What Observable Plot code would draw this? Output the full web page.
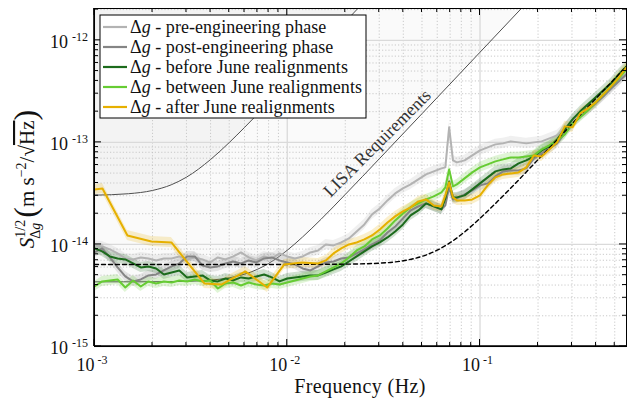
<!DOCTYPE html>
<html><head><meta charset="utf-8">
<script src="https://cdn.jsdelivr.net/npm/d3@7"></script>
<script src="https://cdn.jsdelivr.net/npm/@observablehq/plot@0.6"></script>
<style>body{margin:0;background:#fff} svg{display:block} svg text, svg tspan{font-family:"Liberation Serif",serif !important}</style>
</head><body><div id="chart"></div>
<script>
// ---- data (values in units of 1e-15 m s^-2 / sqrt(Hz)) ----
const freq = [0.001, 0.001096, 0.001202, 0.001318, 0.001445, 0.001585, 0.001738, 0.001905, 0.002089, 0.002291,
 0.002512, 0.002754, 0.003020, 0.003311, 0.003631, 0.003981, 0.004365, 0.004786, 0.005248, 0.005754,
 0.006310, 0.006918, 0.007586, 0.008318, 0.009120, 0.01000, 0.01096, 0.01202, 0.01318, 0.01445,
 0.01585, 0.01738, 0.01905, 0.02089, 0.02291, 0.02512, 0.02754, 0.03020, 0.03311, 0.03631,
 0.03981, 0.04365, 0.04786, 0.05248, 0.05754, 0.06310, 0.06610, 0.06918, 0.07240, 0.07586,
 0.08318, 0.09120, 0.1000, 0.1096, 0.1202, 0.1318, 0.1445, 0.1585, 0.1738, 0.1905,
 0.2089, 0.2291, 0.2512, 0.2754, 0.3020, 0.3311, 0.3631, 0.3981, 0.4365, 0.4786,
 0.5248, 0.5754];
const preEngineering = [9.78, 9.56, 8.93, 8.16, 7.29, 7.13, 7.46, 7.29, 6.97, 7.29,
 7.29, 7.63, 7.13, 7.46, 7.13, 6.66, 7.46, 7.13, 7.63, 8.35,
 7.46, 6.97, 7.63, 7.29, 8.16, 7.63, 7.29, 7.63, 8.35, 8.73,
 10.0, 9.78, 10.46, 11.45, 13.41, 15.71, 19.69, 22.54, 27.01, 31.62,
 35.40, 38.75, 43.38, 48.56, 51.96, 55.60, 56.87, 140.3, 66.61,
 63.67, 66.61, 74.57, 83.48, 89.33, 95.59, 97.77, 102.3, 100, 97.77,
 100, 102.3, 109.5, 117.1, 137.2, 164.3, 188.2, 210.7, 241.2, 282.5,
 331.0, 396.3, 474.8];
const postEngineering = [8.35, 9.14, 7.46, 5.95, 4.86, 4.34, 4.54, 4.97, 5.08, 5.56,
 6.09, 6.51, 7.63, 7.63, 6.22, 5.95, 6.09, 6.51, 6.81, 6.51,
 6.97, 6.66, 7.29, 7.46, 6.97, 6.66, 6.37, 5.82, 5.56, 6.09,
 6.66, 6.81, 7.29, 7.46, 8.16, 8.93, 10.0, 10.95, 13.11, 15.01,
 17.99, 21.55, 23.58, 25.24, 23.58, 22.04, 24.12, 36.21, 27.62,
 28.25, 30.92, 33.84, 37.88, 39.63, 46.42, 51.96, 53.15, 53.15, 55.60,
 69.69, 78.01, 87.34, 97.77, 122.5, 150.1, 179.9, 206.0, 241.2, 282.5,
 338.4, 396.3, 464.3];
const beforeJune = [9.14, 8.54, 7.63, 7.29, 7.13, 6.51, 5.95, 6.09, 5.82, 5.08,
 5.31, 5.56, 4.75, 4.86, 4.97, 4.44, 4.34, 4.64, 4.44, 4.75,
 4.64, 4.86, 5.08, 4.75, 4.34, 4.64, 4.75, 4.86, 4.97, 4.97,
 5.31, 5.69, 6.09, 6.81, 7.63, 8.54, 9.56, 10.46, 11.71, 13.41,
 15.71, 19.25, 21.55, 25.24, 23.58, 22.04, 28.25, 41.46, 28.90,
 28.90, 30.23, 34.61, 39.63, 45.38, 51.96, 54.36, 55.60, 62.25, 66.61,
 72.90, 83.48, 91.37, 107.0, 134.1, 168.1, 201.4, 235.8, 276.2, 323.6,
 378.8, 464.3, 556.0];
const betweenJune = [3.87, 4.34, 4.44, 4.54, 3.79, 4.44, 3.87, 4.34, 4.15, 4.34,
 4.24, 4.44, 4.34, 4.54, 4.34, 4.44, 3.70, 4.15, 4.24, 3.96,
 4.24, 4.05, 3.96, 4.15, 4.05, 4.24, 4.44, 4.64, 4.86, 4.97,
 5.44, 5.95, 6.51, 7.46, 8.73, 9.56, 11.20, 12.25, 14.35, 17.19,
 20.14, 23.06, 25.24, 27.62, 29.56, 32.35, 36.21, 54.36, 37.04,
 38.75, 44.37, 50.80, 56.87, 60.86, 65.12, 68.13, 71.28, 71.28, 72.90,
 74.57, 85.39, 93.45, 104.6, 119.8, 153.6, 175.9, 206.0, 246.7, 295.6,
 354.1, 424.2, 519.6];
const afterFreq = [0.001, 0.0011, 0.001482, 0.001974, 0.002506, 0.003715, 0.00455, 0.006059, 0.007877, 0.009649, 0.01196,
 0.01445, 0.01585, 0.01738, 0.01905, 0.02089, 0.02291, 0.02512, 0.02754, 0.03020, 0.03311, 0.03631,
 0.03981, 0.04365, 0.04786, 0.05248, 0.05754, 0.06310, 0.06610, 0.06918, 0.07240,
 0.07586, 0.08318, 0.09120, 0.1000, 0.1096, 0.1202, 0.1318, 0.1445, 0.1585, 0.1738,
 0.1905, 0.2089, 0.2291, 0.2512, 0.2754, 0.3020, 0.3311, 0.3631, 0.3981, 0.4365,
 0.4786, 0.5248, 0.5754];
const afterJune = [34.61, 35.40, 12.25, 10.70, 10.46, 4.15, 4.05, 5.44, 3.79, 6.37, 6.66,
 6.51, 6.97, 8.16, 9.14, 10.0, 10.46, 11.20, 12.25, 14.03, 16.43, 18.82,
 21.07, 23.06, 26.40, 27.62, 24.12, 23.58, 30.23, 40.54, 28.90,
 27.01, 27.01, 27.62, 30.23, 37.88, 45.38, 48.56, 49.67, 50.80, 56.87,
 74.57, 72.90, 85.39, 100, 143.5, 140.3, 192.5, 215.5, 246.7, 295.6,
 354.1, 433.8, 543.6];
const noiseFreq = [0.001, 0.01, 0.02, 0.03, 0.04, 0.05, 0.06, 0.07, 0.08, 0.1, 0.12, 0.15, 0.2, 0.25, 0.3, 0.4, 0.5, 0.6];
const noiseModel = [6.37, 6.37, 6.41, 6.55, 6.92, 7.64, 8.79, 10.4, 12.5, 18.0, 25.1, 38.4, 67.7, 105, 152, 270, 421, 606];
const lisaFreq = [0.001, 0.002, 0.003, 0.004, 0.005, 0.006, 0.007, 0.008, 0.01, 0.012, 0.015, 0.02, 0.03, 0.05, 0.1, 0.2, 0.3];
const lisaReq = [4.30, 4.31, 4.35, 4.47, 4.71, 5.11, 5.70, 6.51, 8.77, 11.82, 17.7, 30.9, 68.9, 191, 764, 3058, 6880];
const upperFreq = [0.001, 0.0015, 0.002, 0.0025, 0.003, 0.004, 0.005, 0.006, 0.008, 0.01, 0.015, 0.02, 0.025, 0.03];
const upperReq = [30.4, 31.4, 33.8, 38.4, 45.6, 67.9, 99.6, 140, 245, 381, 855, 1519, 2373, 3418];

const xMajor = [1e-3, 1e-2, 1e-1];
const xMinor = [2e-3,3e-3,4e-3,5e-3,6e-3,7e-3,8e-3,9e-3, 2e-2,3e-2,4e-2,5e-2,6e-2,7e-2,8e-2,9e-2, 0.2,0.3,0.4,0.5];
const xTickExp = ["-3", "-2", "-1"];
const yMajor = [1e-15, 1e-14, 1e-13, 1e-12];
const yMinor = [2e-15,3e-15,4e-15,5e-15,6e-15,7e-15,8e-15,9e-15, 2e-14,3e-14,4e-14,5e-14,6e-14,7e-14,8e-14,9e-14,
  2e-13,3e-13,4e-13,5e-13,6e-13,7e-13,8e-13,9e-13, 2e-12];
const yTickExp = ["-15", "-14", "-13", "-12"];

const seriesNames = ["pre-engineering phase", "post-engineering phase", "before June realignments", "between June realignments", "after June realignments"];
const seriesColors = ["#b3b3b3", "#858585", "#1c6b1c", "#66cc33", "#e6b000"];
const annotations = [{f: 0.0293, s: 9.8e-14, text: "LISA Requirements"}];

// ---- build tables ----
const U = 1e-15;
const rows = (fs, vs) => fs.map((f, i) => ({f, s: vs[i] * U}));
const series = [
  rows(freq, preEngineering),
  rows(freq, postEngineering),
  rows(freq, beforeJune),
  rows(freq, betweenJune),
  rows(afterFreq, afterJune)
];
const yTop = 2.05e-12;
const FONT = "Liberation Serif";
const BAND = 1.12;

function txt(parent) {
  return parent.append("text").attr("font-family", FONT).attr("fill", "#111");
}

function decorations(index, scales, values, dims) {
  const {x, y} = scales;
  const L = dims.marginLeft, R = dims.width - dims.marginRight, T = dims.marginTop, B = dims.height - dims.marginBottom;
  const g = d3.create("svg:g");
  const tk = g.append("g").attr("stroke", "#000").attr("stroke-width", 1).attr("fill", "none");
  const line = (x1, y1, x2, y2) => tk.append("line").attr("x1", x1).attr("y1", y1).attr("x2", x2).attr("y2", y2);
  for (const v of xMajor) { const p = x(v); line(p, B, p, B - 7); line(p, T, p, T + 7); }
  for (const v of xMinor) { const p = x(v); line(p, B, p, B - 4); line(p, T, p, T + 4); }
  for (const v of yMajor) { const p = y(v); line(L, p, L + 7, p); line(R, p, R - 7, p); }
  for (const v of yMinor) { const p = y(v); line(L, p, L + 4, p); line(R, p, R - 4, p); }
  line(L, T, L, B).attr("stroke-width", 1.6);
  line(L, B, R, B).attr("stroke-width", 1.6);
  xMajor.forEach((v, i) => {
    const t = txt(g).attr("x", x(v) - 2).attr("y", B + 25).attr("text-anchor", "middle").attr("font-size", 18);
    t.append("tspan").text("10");
    t.append("tspan").attr("font-size", 12).attr("dx", 3).attr("dy", -7).text(xTickExp[i]);
  });
  yMajor.forEach((v, i) => {
    const t = txt(g).attr("x", L - 6).attr("y", y(v) + 8).attr("text-anchor", "end").attr("font-size", 18);
    t.append("tspan").text("10");
    t.append("tspan").attr("font-size", 12).attr("dx", 4).attr("dy", -7).text(yTickExp[i]);
  });
  // x label
  txt(g).attr("x", (L + R) / 2).attr("y", B + 47).attr("text-anchor", "middle").attr("font-size", 20)
    .attr("letter-spacing", 0.4).text("Frequency (Hz)");
  // y label
  const yl = txt(g).attr("transform", `translate(34,${(T + B) / 2 + 2}) rotate(-90)`).attr("text-anchor", "middle").attr("font-size", 21);
  yl.append("tspan").attr("font-style", "italic").text("S");
  yl.append("tspan").attr("font-size", 14).attr("dy", -9).text("1/2");
  const sub = yl.append("tspan").attr("font-size", 14).attr("dx", -19).attr("dy", 15);
  sub.append("tspan").text("Δ");
  sub.append("tspan").attr("font-style", "italic").text("g");
  yl.append("tspan").attr("font-size", 32).attr("dx", 5).attr("dy", -4).text("(");
  yl.append("tspan").attr("font-size", 21).attr("dy", -2).text("m s");
  yl.append("tspan").attr("font-size", 14).attr("dy", -8).text("−2");
  yl.append("tspan").attr("font-size", 21).attr("dy", 8).text("/√");
  yl.append("tspan").attr("font-size", 21).attr("text-decoration", "overline").text("Hz");
  yl.append("tspan").attr("font-size", 32).attr("dy", 2).text(")");
  return g.node();
}

function legend(index, scales, values, dims) {
  const g = d3.create("svg:g");
  const x0 = dims.marginLeft + 6, y0 = dims.marginTop + 7;
  g.append("rect").attr("x", x0).attr("y", y0).attr("width", 266).attr("height", 103)
    .attr("fill", "#fff").attr("stroke", "#000").attr("stroke-width", 1);
  seriesNames.forEach((name, i) => {
    const cy = y0 + 12 + i * 20;
    g.append("line").attr("x1", x0 + 3).attr("x2", x0 + 27).attr("y1", cy).attr("y2", cy)
      .attr("stroke", seriesColors[i]).attr("stroke-width", 2.2);
    const t = txt(g).attr("x", x0 + 30).attr("y", cy + 5.5).attr("font-size", 18)
      .attr("letter-spacing", 0.05).attr("text-anchor", "start");
    t.append("tspan").text("Δ");
    t.append("tspan").attr("font-style", "italic").text("g");
    t.append("tspan").text(" - " + name);
  });
  return g.node();
}

const marks = [
  Plot.areaY(rows(lisaFreq, lisaReq), {x: "f", y1: "s", y2: () => yTop, fill: "#000", fillOpacity: 0.02, curve: "monotone-x", clip: true}),
  Plot.areaY(rows(upperFreq, upperReq), {x: "f", y1: "s", y2: () => yTop, fill: "#000", fillOpacity: 0.028, curve: "monotone-x", clip: true}),
  Plot.ruleX(xMinor, {stroke: "#c4c4c4", strokeDasharray: "1.2,2", strokeWidth: 0.9}),
  Plot.ruleY(yMinor, {stroke: "#c4c4c4", strokeDasharray: "1.2,2", strokeWidth: 0.9}),
  Plot.ruleX(xMajor, {stroke: "#dadada", strokeWidth: 1.3}),
  Plot.ruleY(yMajor, {stroke: "#dadada", strokeWidth: 1.3}),
  Plot.line(rows(lisaFreq, lisaReq), {x: "f", y: "s", stroke: "#4d4d4d", strokeWidth: 1, curve: "monotone-x", clip: true}),
  Plot.line(rows(upperFreq, upperReq), {x: "f", y: "s", stroke: "#4d4d4d", strokeWidth: 1, curve: "monotone-x", clip: true}),
  ...series.map((d, i) => Plot.areaY(d, {x: "f", y1: r => r.s / BAND, y2: r => r.s * BAND, fill: seriesColors[i], fillOpacity: 0.2, clip: true})),
  ...series.slice(0, 4).map((d, i) => Plot.line(d, {x: "f", y: "s", stroke: seriesColors[i], strokeWidth: 2, clip: true})),
  Plot.line(rows(noiseFreq, noiseModel), {x: "f", y: "s", stroke: "#000", strokeWidth: 1.4, strokeDasharray: "4,3", curve: "monotone-x", clip: true}),
  Plot.line(series[4], {x: "f", y: "s", stroke: seriesColors[4], strokeWidth: 2, clip: true}),
  Plot.text(annotations, {x: "f", y: "s", text: "text", rotate: -45, fontSize: 18, fill: "#333", fontFamily: FONT}),
  Plot.frame({stroke: "#000", strokeWidth: 1}),
  decorations,
  legend
];

const chart = Plot.plot({
  width: 627, height: 401,
  marginLeft: 94, marginRight: 1, marginTop: 8, marginBottom: 55,
  style: {fontFamily: FONT, background: "#fff"},
  x: {type: "log", domain: [0.001, 0.5754], axis: null},
  y: {type: "log", domain: [1e-15, yTop], axis: null},
  marks
});
document.getElementById("chart").appendChild(chart);
</script>
</body></html>
